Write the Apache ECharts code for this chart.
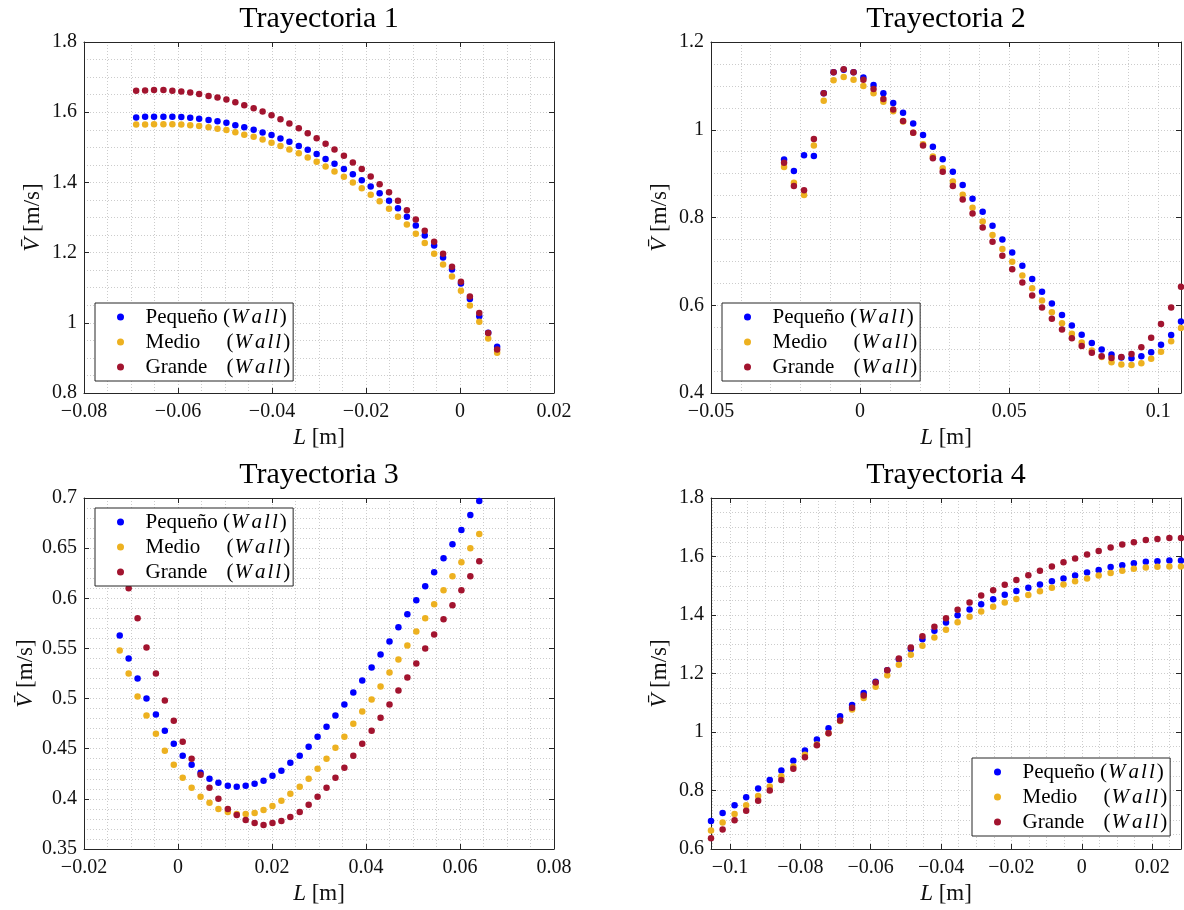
<!DOCTYPE html>
<html>
<head>
<meta charset="utf-8">
<style>html,body{margin:0;padding:0;background:#fff}#chart{width:1184px;height:910px}</style>
<script src="https://cdn.jsdelivr.net/npm/echarts@6/dist/echarts.min.js"></script>
</head>
<body>
<div id="chart"></div>
<script>
// ---------------- DATA ----------------
const seriesNames = ['Pequeño', 'Medio', 'Grande'];
const panelTitles = ['Trayectoria 1', 'Trayectoria 2', 'Trayectoria 3', 'Trayectoria 4'];

// Trayectoria 1
const t1_L = [-0.0689, -0.0670, -0.0651, -0.0631, -0.0612, -0.0593, -0.0574, -0.0555, -0.0535, -0.0516, -0.0497, -0.0478, -0.0459, -0.0439, -0.0420, -0.0401, -0.0382, -0.0363, -0.0343, -0.0324, -0.0305, -0.0286, -0.0267, -0.0247, -0.0228, -0.0209, -0.0190, -0.0171, -0.0151, -0.0132, -0.0113, -0.0094, -0.0075, -0.0055, -0.0036, -0.0017, 0.0002, 0.0021, 0.0041, 0.0060, 0.0079];
const t1_peq = [1.585, 1.587, 1.587, 1.587, 1.587, 1.586, 1.584, 1.581, 1.578, 1.574, 1.570, 1.563, 1.557, 1.550, 1.542, 1.535, 1.525, 1.516, 1.504, 1.493, 1.481, 1.467, 1.453, 1.438, 1.423, 1.406, 1.388, 1.369, 1.348, 1.326, 1.302, 1.277, 1.249, 1.220, 1.186, 1.152, 1.112, 1.068, 1.019, 0.972, 0.932];
const t1_med = [1.565, 1.565, 1.566, 1.566, 1.566, 1.565, 1.563, 1.561, 1.557, 1.553, 1.549, 1.543, 1.536, 1.530, 1.522, 1.513, 1.504, 1.494, 1.483, 1.471, 1.459, 1.445, 1.431, 1.416, 1.400, 1.383, 1.365, 1.346, 1.325, 1.302, 1.280, 1.254, 1.227, 1.197, 1.166, 1.132, 1.091, 1.049, 1.003, 0.955, 0.915];
const t1_gra = [1.661, 1.662, 1.663, 1.663, 1.661, 1.659, 1.656, 1.652, 1.646, 1.642, 1.636, 1.628, 1.620, 1.611, 1.602, 1.591, 1.580, 1.568, 1.554, 1.540, 1.526, 1.510, 1.494, 1.476, 1.457, 1.438, 1.417, 1.395, 1.372, 1.348, 1.321, 1.294, 1.262, 1.231, 1.197, 1.160, 1.117, 1.075, 1.028, 0.971, 0.924];
const t1_xTicks = [-0.08, -0.06, -0.04, -0.02, 0, 0.02];
const t1_yTicks = [0.8, 1, 1.2, 1.4, 1.6, 1.8];

// Trayectoria 2
const t2_L = [-0.0255, -0.0222, -0.0188, -0.0155, -0.0122, -0.0089, -0.0055, -0.0022, 0.0011, 0.0045, 0.0078, 0.0111, 0.0144, 0.0178, 0.0211, 0.0244, 0.0277, 0.0311, 0.0344, 0.0377, 0.0411, 0.0444, 0.0477, 0.0510, 0.0544, 0.0577, 0.0610, 0.0643, 0.0677, 0.0710, 0.0743, 0.0777, 0.0810, 0.0843, 0.0876, 0.0910, 0.0943, 0.0976, 0.1009, 0.1043, 0.1076];
const t2_peq = [0.932, 0.906, 0.942, 0.940, 1.083, 1.131, 1.137, 1.131, 1.119, 1.102, 1.083, 1.061, 1.039, 1.014, 0.988, 0.961, 0.933, 0.904, 0.874, 0.843, 0.813, 0.781, 0.750, 0.720, 0.690, 0.660, 0.631, 0.604, 0.578, 0.554, 0.533, 0.514, 0.499, 0.488, 0.481, 0.479, 0.484, 0.493, 0.510, 0.532, 0.563];
const t2_med = [0.915, 0.879, 0.851, 0.964, 1.066, 1.113, 1.120, 1.114, 1.100, 1.083, 1.064, 1.042, 1.019, 0.993, 0.967, 0.939, 0.912, 0.882, 0.852, 0.822, 0.791, 0.760, 0.728, 0.699, 0.668, 0.639, 0.611, 0.584, 0.559, 0.535, 0.515, 0.497, 0.482, 0.470, 0.465, 0.464, 0.468, 0.478, 0.494, 0.518, 0.548];
const t2_gra = [0.925, 0.872, 0.862, 0.979, 1.083, 1.131, 1.138, 1.131, 1.114, 1.093, 1.070, 1.046, 1.020, 0.993, 0.964, 0.935, 0.904, 0.872, 0.841, 0.809, 0.777, 0.745, 0.713, 0.682, 0.652, 0.622, 0.595, 0.569, 0.545, 0.525, 0.507, 0.492, 0.484, 0.480, 0.482, 0.489, 0.504, 0.526, 0.557, 0.595, 0.642];
const t2_xTicks = [-0.05, 0, 0.05, 0.1];
const t2_yTicks = [0.4, 0.6, 0.8, 1, 1.2];

// Trayectoria 3
const t3_L = [-0.0124, -0.0105, -0.0086, -0.0067, -0.0047, -0.0028, -0.0009, 0.0010, 0.0029, 0.0048, 0.0067, 0.0086, 0.0106, 0.0125, 0.0144, 0.0163, 0.0182, 0.0201, 0.0220, 0.0239, 0.0259, 0.0278, 0.0297, 0.0316, 0.0335, 0.0354, 0.0373, 0.0392, 0.0412, 0.0431, 0.0450, 0.0469, 0.0488, 0.0507, 0.0526, 0.0545, 0.0565, 0.0584, 0.0603, 0.0622, 0.0641];
const t3_peq = [0.563, 0.540, 0.520, 0.500, 0.484, 0.468, 0.455, 0.443, 0.434, 0.426, 0.420, 0.416, 0.413, 0.412, 0.413, 0.415, 0.418, 0.423, 0.428, 0.436, 0.443, 0.452, 0.462, 0.472, 0.483, 0.494, 0.506, 0.518, 0.531, 0.544, 0.557, 0.571, 0.584, 0.598, 0.612, 0.626, 0.640, 0.654, 0.668, 0.683, 0.697];
const t3_med = [0.548, 0.525, 0.502, 0.483, 0.465, 0.448, 0.434, 0.421, 0.411, 0.402, 0.396, 0.390, 0.387, 0.385, 0.385, 0.386, 0.389, 0.393, 0.398, 0.405, 0.412, 0.420, 0.430, 0.440, 0.451, 0.462, 0.475, 0.487, 0.499, 0.512, 0.526, 0.539, 0.553, 0.567, 0.580, 0.594, 0.608, 0.622, 0.636, 0.650, 0.664];
const t3_gra = [0.640, 0.610, 0.580, 0.551, 0.525, 0.498, 0.478, 0.457, 0.440, 0.424, 0.411, 0.400, 0.390, 0.384, 0.379, 0.376, 0.374, 0.376, 0.378, 0.382, 0.387, 0.394, 0.402, 0.411, 0.421, 0.431, 0.443, 0.455, 0.468, 0.481, 0.494, 0.508, 0.521, 0.535, 0.550, 0.564, 0.579, 0.593, 0.608, 0.622, 0.637];
const t3_xTicks = [-0.02, 0, 0.02, 0.04, 0.06, 0.08];
const t3_yTicks = [0.35, 0.4, 0.45, 0.5, 0.55, 0.6, 0.65, 0.7];

// Trayectoria 4
const t4_L = [-0.1054, -0.1021, -0.0987, -0.0954, -0.0920, -0.0887, -0.0854, -0.0820, -0.0787, -0.0753, -0.0720, -0.0687, -0.0653, -0.0620, -0.0586, -0.0553, -0.0520, -0.0486, -0.0453, -0.0419, -0.0386, -0.0353, -0.0319, -0.0286, -0.0252, -0.0219, -0.0186, -0.0152, -0.0119, -0.0085, -0.0052, -0.0019, 0.0015, 0.0048, 0.0082, 0.0115, 0.0148, 0.0182, 0.0215, 0.0249, 0.0282];
const t4_peq = [0.696, 0.723, 0.750, 0.777, 0.807, 0.836, 0.868, 0.902, 0.937, 0.974, 1.013, 1.054, 1.092, 1.133, 1.172, 1.211, 1.249, 1.284, 1.317, 1.346, 1.374, 1.399, 1.419, 1.437, 1.454, 1.469, 1.482, 1.493, 1.504, 1.515, 1.525, 1.535, 1.545, 1.554, 1.564, 1.570, 1.577, 1.582, 1.584, 1.586, 1.586];
const t4_med = [0.663, 0.691, 0.720, 0.750, 0.781, 0.814, 0.849, 0.882, 0.922, 0.957, 0.996, 1.038, 1.077, 1.116, 1.155, 1.194, 1.230, 1.264, 1.295, 1.323, 1.350, 1.375, 1.394, 1.412, 1.428, 1.443, 1.455, 1.468, 1.481, 1.493, 1.504, 1.515, 1.525, 1.535, 1.544, 1.551, 1.558, 1.562, 1.565, 1.566, 1.566];
const t4_gra = [0.637, 0.667, 0.698, 0.731, 0.765, 0.800, 0.836, 0.874, 0.914, 0.955, 0.996, 1.039, 1.083, 1.125, 1.169, 1.211, 1.251, 1.289, 1.327, 1.360, 1.389, 1.418, 1.443, 1.467, 1.485, 1.503, 1.520, 1.536, 1.551, 1.566, 1.580, 1.593, 1.607, 1.619, 1.631, 1.641, 1.649, 1.656, 1.660, 1.663, 1.663];
const t4_xTicks = [-0.1, -0.08, -0.06, -0.04, -0.02, 0, 0.02];
const t4_yTicks = [0.6, 0.8, 1, 1.2, 1.4, 1.6, 1.8];

// ---------------- PANELS ----------------
const panels = [
  { L: t1_L, ys: [t1_peq, t1_med, t1_gra], xMin: -0.08, xMax: 0.02, xTicks: t1_xTicks, xStep: 0.005, yMin: 0.8, yMax: 1.8, yTicks: t1_yTicks, yStep: 0.05 },
  { L: t2_L, ys: [t2_peq, t2_med, t2_gra], xMin: -0.05, xMax: 0.1076, xTicks: t2_xTicks, xStep: 0.01, yMin: 0.4, yMax: 1.2, yTicks: t2_yTicks, yStep: 0.05 },
  { L: t3_L, ys: [t3_peq, t3_med, t3_gra], xMin: -0.02, xMax: 0.08, xTicks: t3_xTicks, xStep: 0.005, yMin: 0.35, yMax: 0.7, yTicks: t3_yTicks, yStep: 0.01 },
  { L: t4_L, ys: [t4_peq, t4_med, t4_gra], xMin: -0.1054, xMax: 0.0282, xTicks: t4_xTicks, xStep: 0.005, yMin: 0.6, yMax: 1.8, yTicks: t4_yTicks, yStep: 0.05 }
];

const layout = [
  { left: 84, top: 42, legLeft: 95, legTop: 303, yGap: 40 },
  { left: 711, top: 42, legLeft: 722, legTop: 303, yGap: 40 },
  { left: 84, top: 498, legLeft: 95, legTop: 508, yGap: 47 },
  { left: 711, top: 498, legLeft: 972, legTop: 758, yGap: 40 }
];
const W = 470, H = 351;
const COLORS = ['#0000FF', '#EDB120', '#A2142F'];
const FONT = 'Liberation Serif';
const AX = '#262626';
const TXT = '#111111';
const GRIDC = '#cccccc';

function minorVals(min, max, step) {
  const out = [];
  for (let k = Math.ceil(min / step - 1e-9); k * step <= max + 1e-9; k++) out.push(+(k * step).toFixed(6));
  return out;
}
function fmt(v) {
  const a = +Math.abs(v).toFixed(4);
  if (a === 0) return '0';
  return (v < 0 ? '\u2212' : '') + String(a);
}

const legRich = (extra) => Object.assign({ fontSize: 21, fontFamily: FONT, color: '#000', lineHeight: 22 }, extra || {});
const WALL = '{p|(}{w|W}{a|a}{l|l}{l|l}{p|)}';

const grids = [], xAxes = [], yAxes = [], series = [], legends = [], graphics = [];
panels.forEach((p, k) => {
  const lay = layout[k];
  grids.push({ left: lay.left, top: lay.top, width: W, height: H, containLabel: false, outerBoundsMode: 'none', show: false });
  const axLine = { show: true, onZero: false, lineStyle: { color: AX, width: 1 } };
  const tickStyle = { color: AX, width: 1 };
  xAxes.push({
    type: 'value', gridIndex: k, position: 'bottom', min: p.xMin, max: p.xMax,
    axisLine: axLine,
    axisTick: { show: true, inside: true, length: 5, customValues: p.xTicks, lineStyle: tickStyle },
    axisLabel: { show: true, customValues: p.xTicks, formatter: fmt, margin: 9, fontSize: 20, fontFamily: FONT, color: TXT },
    splitLine: { show: false },
    name: '{i|L} [m]', nameLocation: 'middle', nameGap: 33,
    nameTextStyle: { fontSize: 23, fontFamily: FONT, color: TXT,
      rich: { i: { fontStyle: 'italic', fontSize: 23, fontFamily: FONT, color: TXT } } }
  });
  xAxes.push({
    type: 'value', gridIndex: k, position: 'top', min: p.xMin, max: p.xMax,
    axisLine: axLine,
    axisTick: { show: true, inside: true, length: 5, customValues: p.xTicks, lineStyle: tickStyle },
    axisLabel: { show: false }, splitLine: { show: false }
  });
  xAxes.push({
    type: 'value', gridIndex: k, position: 'bottom', min: p.xMin, max: p.xMax,
    axisLine: { show: false, onZero: false },
    axisTick: { show: false, customValues: minorVals(p.xMin, p.xMax, p.xStep) },
    axisLabel: { show: false },
    splitLine: { show: true, lineStyle: { color: GRIDC, width: 1, type: [1, 2] } }
  });
  yAxes.push({
    type: 'value', gridIndex: k, position: 'left', min: p.yMin, max: p.yMax,
    axisLine: axLine,
    axisTick: { show: true, inside: true, length: 5, customValues: p.yTicks, lineStyle: tickStyle },
    axisLabel: { show: true, customValues: p.yTicks, formatter: fmt, margin: 7, fontSize: 20, fontFamily: FONT, color: TXT },
    splitLine: { show: false },
    name: '{i|V\u0304} [m/s]', nameLocation: 'middle', nameGap: lay.yGap,
    nameTextStyle: { fontSize: 23, fontFamily: FONT, color: TXT,
      rich: { i: { fontStyle: 'italic', fontSize: 23, fontFamily: FONT, color: TXT } } }
  });
  yAxes.push({
    type: 'value', gridIndex: k, position: 'right', min: p.yMin, max: p.yMax,
    axisLine: axLine,
    axisTick: { show: true, inside: true, length: 5, customValues: p.yTicks, lineStyle: tickStyle },
    axisLabel: { show: false }, splitLine: { show: false }
  });
  yAxes.push({
    type: 'value', gridIndex: k, position: 'left', min: p.yMin, max: p.yMax,
    axisLine: { show: false, onZero: false },
    axisTick: { show: false, customValues: minorVals(p.yMin, p.yMax, p.yStep) },
    axisLabel: { show: false },
    splitLine: { show: true, lineStyle: { color: GRIDC, width: 1, type: [1, 2] } }
  });
  p.ys.forEach((arr, s) => {
    series.push({
      type: 'scatter', name: seriesNames[s], xAxisIndex: 3 * k, yAxisIndex: 3 * k,
      data: p.L.map((x, i) => [x, arr[i]]),
      symbol: 'circle', symbolSize: 6.5,
      itemStyle: { color: COLORS[s], opacity: 1 },
      emphasis: { disabled: true }, z: 3 + s
    });
  });
  legends.push({
    orient: 'vertical', left: lay.legLeft, top: lay.legTop, data: seriesNames,
    icon: 'circle', itemWidth: 40, itemHeight: 7, itemGap: 3,
    padding: [3, 3, 3, 22], backgroundColor: '#ffffff', borderColor: AX, borderWidth: 1, borderRadius: 0,
    selectedMode: false, z: 10,
    formatter: function (name) {
      if (name === 'Pequeño') return '{q|Pequeño }' + WALL;
      return '{m|' + name + '}' + WALL;
    },
    textStyle: {
      fontSize: 21, fontFamily: FONT, color: '#000', lineHeight: 22,
      rich: {
        q: legRich(),
        m: legRich({ width: 81 }),
        p: legRich(),
        w: legRich({ fontStyle: 'italic', padding: [0, 3, 0, 1] }),
        a: legRich({ fontStyle: 'italic', padding: [0, 2, 0, 0] }),
        l: legRich({ fontStyle: 'italic', padding: [0, 2, 0, 0] })
      }
    }
  });
  graphics.push({
    type: 'text', x: lay.left + W / 2, y: lay.top - 23, z: 10,
    style: { text: panelTitles[k], fontSize: 30, fontFamily: FONT, fill: '#000', align: 'center', verticalAlign: 'middle' }
  });
});

const chart = echarts.init(document.getElementById('chart'), null, { renderer: 'canvas' });
chart.setOption({
  animation: false,
  backgroundColor: '#ffffff',
  grid: grids, xAxis: xAxes, yAxis: yAxes, series: series, legend: legends,
  graphic: { elements: graphics },
  tooltip: { show: false }
});
</script>
</body>
</html>
